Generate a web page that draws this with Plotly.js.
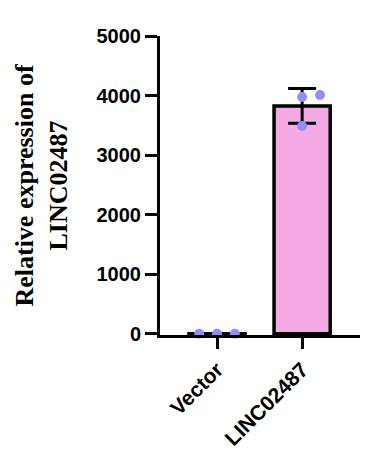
<!DOCTYPE html>
<html>
<head>
<meta charset="utf-8">
<script src="https://cdn.plot.ly/plotly-3.0.1.min.js"></script>
<style>html,body{margin:0;padding:0;background:#fff;}#chart{width:372px;height:469px;}</style>
</head>
<body>
<div id="chart"></div>
<script>
// Data
const categories = ["Vector", "LINC02487"];
const vectorReplicates = [1.0, 1.1, 0.9];
const lincReplicates = [3977, 4010, 3490];
const jitter = [[-0.21, 0, 0.21], [0, 0.21, 0]];
const yTickVals = [0, 1000, 2000, 3000, 4000, 5000];

const groups = [vectorReplicates, lincReplicates];
const mean = a => a.reduce((s, v) => s + v, 0) / a.length;
const sd = a => { const m = mean(a); return Math.sqrt(a.reduce((s, v) => s + (v - m) * (v - m), 0) / (a.length - 1)); };
const means = groups.map(mean);
const sds = groups.map(sd);
const xIdx = categories.map((c, i) => i);

const barTrace = {
  type: 'bar',
  x: xIdx,
  y: means,
  width: 0.66,
  marker: { color: ['#ffffff', '#F5AAE6'], line: { color: '#000', width: 3.5 } },
  error_y: { type: 'data', array: sds, visible: true, color: '#000', thickness: 3, width: 14 },
  hoverinfo: 'none',
  showlegend: false
};

const ptsX = [], ptsY = [];
groups.forEach((g, i) => g.forEach((v, j) => { ptsX.push(i + jitter[i][j]); ptsY.push(v); }));
const dotTrace = {
  type: 'scatter', mode: 'markers',
  x: ptsX, y: ptsY,
  marker: { color: '#8F8FF7', size: 10 },
  cliponaxis: false,
  hoverinfo: 'none', showlegend: false
};

const layout = {
  width: 372, height: 469,
  margin: { l: 160, r: 12, t: 36, b: 134 },
  paper_bgcolor: '#fff', plot_bgcolor: '#fff',
  xaxis: {
    range: [-0.67, 1.68],
    tickvals: xIdx, ticktext: categories,
    tickangle: -45,
    ticks: 'outside', ticklen: 11, tickwidth: 3, tickcolor: '#000',
    showline: true, linewidth: 3, linecolor: '#000',
    showgrid: false, zeroline: false,
    tickfont: { family: 'Liberation Sans, Arial, sans-serif', size: 21, color: '#000', weight: 'bold' }
  },
  yaxis: {
    range: [-20, 5000],
    tickvals: yTickVals,
    ticks: 'outside', ticklen: 12, tickwidth: 3, tickcolor: '#000',
    showline: true, linewidth: 3, linecolor: '#000',
    showgrid: false, zeroline: false,
    tickfont: { family: 'Liberation Sans, Arial, sans-serif', size: 20, color: '#000', weight: 'bold' },
    title: {
      text: 'Relative expression of<br>LINC02487',
      font: { family: 'Liberation Serif, Times New Roman, serif', size: 26, color: '#000', weight: 'bold' },
      standoff: 22
    },
    automargin: false
  },
  bargap: 0.3
};

Plotly.newPlot('chart', [barTrace, dotTrace], layout, { staticPlot: true, displayModeBar: false });
</script>
</body>
</html>
